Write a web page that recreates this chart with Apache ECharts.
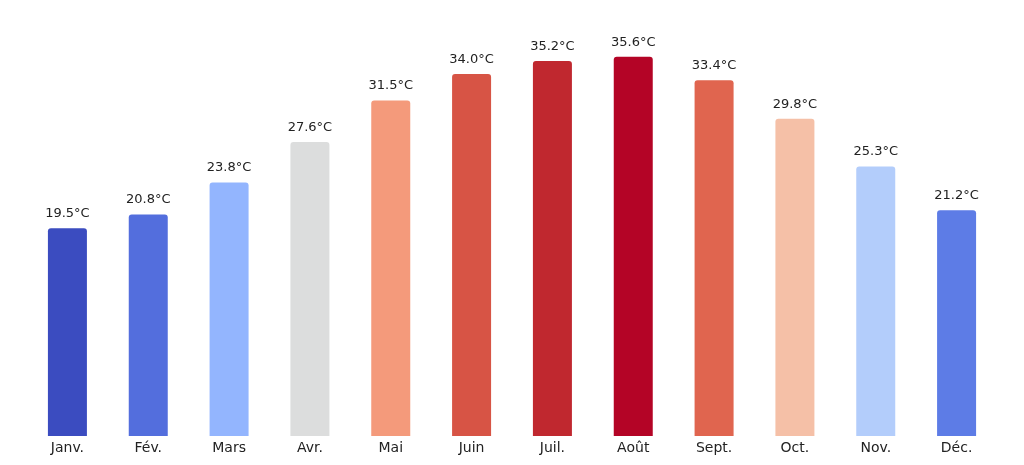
<!DOCTYPE html>
<html>
<head>
<meta charset="utf-8">
<script src="https://cdn.jsdelivr.net/npm/echarts@6/dist/echarts.min.js"></script>
<style>html,body{margin:0;background:#fff}#chart{width:1024px;height:465px}</style>
</head>
<body>
<div id="chart"></div>
<script>
const months = ['Janv.', 'Fév.', 'Mars', 'Avr.', 'Mai', 'Juin', 'Juil.', 'Août', 'Sept.', 'Oct.', 'Nov.', 'Déc.']
const temps = [19.5, 20.8, 23.8, 27.6, 31.5, 34.0, 35.2, 35.6, 33.4, 29.8, 25.3, 21.2]
const colors = ['#3b4cc0', '#536edd', '#93b5fe', '#dcdddd', '#f49a7b', '#d75445', '#c0282f', '#b40426', '#e0654f', '#f5c0a7', '#b3cdfb', '#5d7ce6']

const chart = echarts.init(document.getElementById('chart'))
chart.setOption({
  animation: false,
  grid: { left: 27, right: 27, top: 10, bottom: 29 },
  xAxis: {
    type: 'category',
    data: months,
    axisLine: { show: false },
    axisTick: { show: false },
    axisLabel: { color: '#222', fontSize: 14, fontFamily: 'DejaVu Sans', margin: 5 }
  },
  yAxis: { type: 'value', min: 0, max: 40, show: false },
  series: [{
    type: 'bar',
    barWidth: 39,
    data: temps.map((v, i) => ({ value: v, itemStyle: { color: colors[i] } })),
    itemStyle: { borderRadius: [3, 3, 0, 0] },
    label: {
      show: true,
      position: 'top',
      distance: 8,
      color: '#222',
      fontSize: 13,
      fontFamily: 'DejaVu Sans',
      formatter: p => p.value.toFixed(1) + '°C'
    }
  }]
})
</script>
</body>
</html>
